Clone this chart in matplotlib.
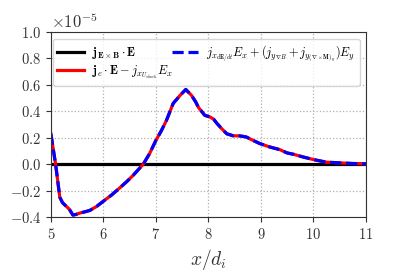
import numpy as np
import matplotlib
matplotlib.use("Agg")
import matplotlib.pyplot as plt

plt.rcParams["font.family"] = "serif"
plt.rcParams["font.serif"] = ["cmr10"]
plt.rcParams["mathtext.fontset"] = "cm"
plt.rcParams["axes.unicode_minus"] = False
plt.rcParams["axes.formatter.use_mathtext"] = True

# x positions (x/d_i) and energy-exchange term (units of 1e-5)
x_pos = [5.0, 5.09, 5.17, 5.22, 5.27, 5.35, 5.42, 5.48, 5.55, 5.65, 5.74,
         5.87, 6.0, 6.15, 6.31, 6.45, 6.57, 6.76, 6.88, 7.0, 7.1, 7.2,
         7.33, 7.46, 7.57, 7.68, 7.76, 7.81, 7.93, 8.03, 8.1, 8.16, 8.25,
         8.35, 8.47, 8.6, 8.72, 8.85, 8.98, 9.17, 9.36, 9.5, 9.62, 9.8,
         10.0, 10.25, 10.5, 10.75, 11.0]
je_term = [0.23, 0.0, -0.25, -0.29, -0.31, -0.34, -0.385, -0.38, -0.37,
           -0.36, -0.35, -0.32, -0.28, -0.235, -0.18, -0.13, -0.083, 0.0,
           0.08, 0.18, 0.25, 0.33, 0.46, 0.52, 0.565, 0.52, 0.47, 0.43,
           0.37, 0.357, 0.34, 0.31, 0.27, 0.23, 0.215, 0.214, 0.206, 0.18,
           0.156, 0.13, 0.11, 0.085, 0.075, 0.055, 0.035, 0.015, 0.01,
           0.005, 0.003]
drift_sum = je_term
exb_term = [0.0 for _ in x_pos]

scale = 1e-5

fig = plt.figure(figsize=(4.07, 2.71), dpi=100)
ax = fig.add_axes([0.125, 0.199, 0.774, 0.683])

ax.plot(x_pos, np.array(exb_term) * scale, color="black", lw=2.3,
        label=r"$\mathbf{j}_{\mathbf{E}\times\mathbf{B}}\cdot\mathbf{E}$")
ax.plot(x_pos, np.array(je_term) * scale, color="red", lw=2.3,
        label=r"$\mathbf{j}_e\cdot\mathbf{E}-j_{x_{U_{shock}}}E_x$")
ax.plot(x_pos, np.array(drift_sum) * scale, color="blue", lw=2.3, ls=(0, (3.5, 1.5)),
        label=r"$j_{x_{d\mathbf{E}/dt}}E_x+(j_{y_{\nabla B}}+j_{y_{(\nabla\times\mathbf{M})_y}})E_y$")

ax.set_xlim(5, 11)
ax.set_ylim(-0.4e-5, 1.0e-5)
ax.set_yticks(np.arange(-0.4, 1.01, 0.2) * scale)
ax.tick_params(labelsize=10.5, colors="#333333", labelcolor="#333333")
for s in ax.spines.values():
    s.set_color("#333333")
ax.yaxis.get_offset_text().set_fontsize(12)
ax.yaxis.get_offset_text().set_color("#333333")
ax.grid(True, ls=":", color="#b0b0b0", lw=0.9)
ax.set_xlabel(r"$x/d_i$", fontsize=14, color="#333333")

ax.legend(loc="upper left", bbox_to_anchor=(0.006, 0.962), borderaxespad=0,
          ncol=2, fontsize=8.8, frameon=True, handlelength=2.2,
          columnspacing=-0.1, handletextpad=0.65, labelspacing=0.2,
          borderpad=0.35)

fig.savefig("out.png", dpi=100)
